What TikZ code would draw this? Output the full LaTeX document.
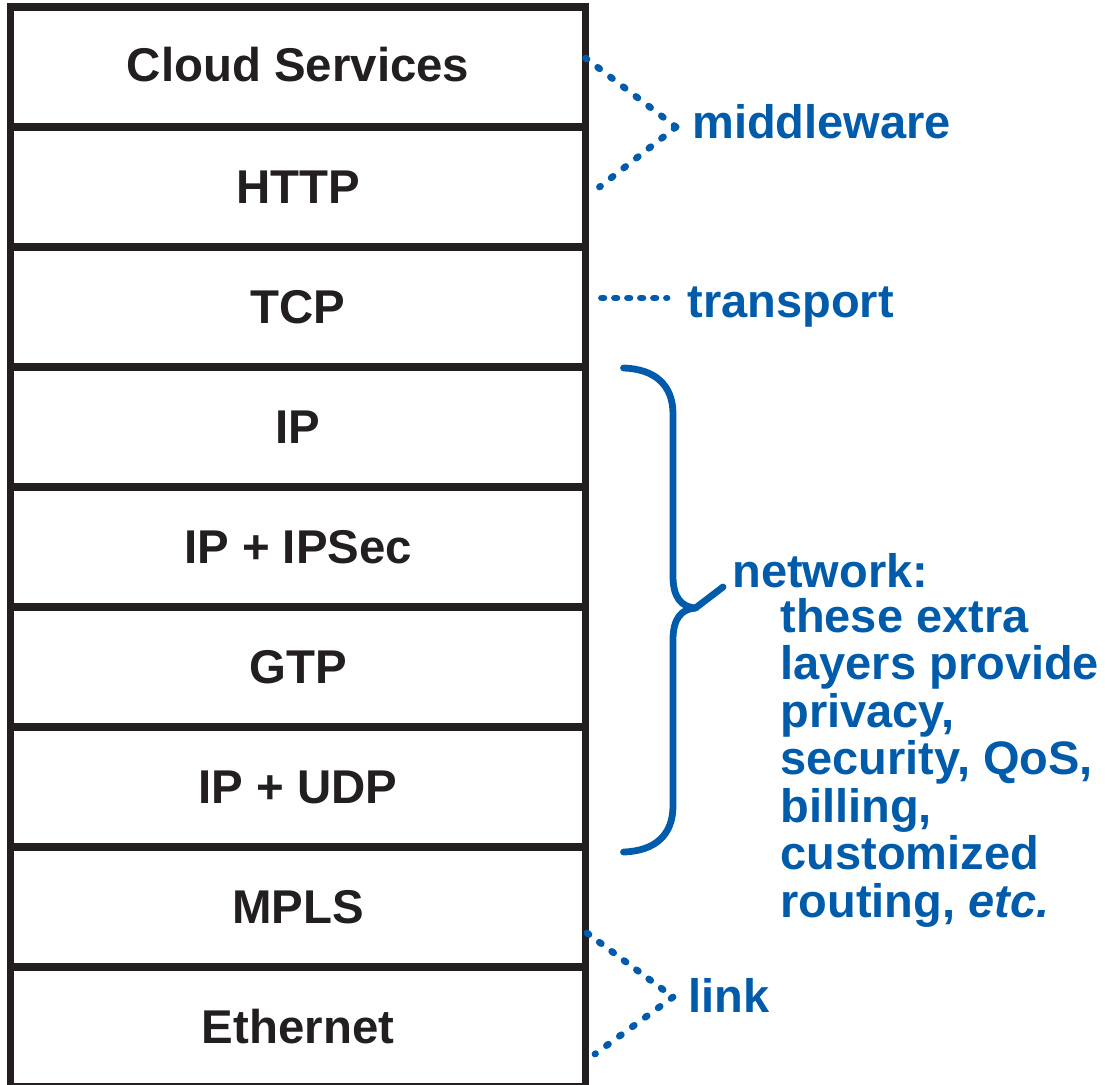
\documentclass[tikz,border=0pt]{standalone}
\usepackage{fontspec}
\setmainfont{Liberation Sans}
\definecolor{ink}{HTML}{231F20}
\definecolor{netblue}{HTML}{005BAA}
\begin{document}
\begin{tikzpicture}[x=0.5pt,y=-0.5pt,
  layer/.style={draw=ink, line width=3.75pt, minimum width=287.4pt, minimum height=60pt,
    inner sep=0pt, outer sep=0pt, text=ink, font=\fontsize{23.7pt}{28pt}\selectfont\bfseries},
  note/.style={text=netblue, inner sep=0pt, anchor=base west,
    font=\fontsize{23.5pt}{23.75pt}\selectfont\bfseries},
  dotline/.style={draw=netblue, line width=3.4pt, line cap=round, dash pattern=on 1.2pt off 6.8pt},
  bracepath/.style={draw=netblue, line width=3.4pt, line cap=round, line join=round}]
\useasboundingbox (0,0) rectangle (1105,1084);

% layer stack
\node[layer] (cloud) at (298.1,67)   {\raisebox{2.5pt}{Cloud Services}};
\node[layer] (http)  at (298.1,187)  {HTTP};
\node[layer] (tcp)   at (298.1,307)  {TCP};
\node[layer] (ip)    at (298.1,427)  {IP};
\node[layer] (ipsec) at (298.1,547)  {IP + IPSec};
\node[layer] (gtp)   at (298.1,667)  {GTP};
\node[layer] (udp)   at (298.1,787)  {IP + UDP};
\node[layer] (mpls)  at (298.1,907)  {MPLS};
\node[layer] (eth)   at (298.1,1027) {Ethernet};

% labels
\node[note] (mw)  at (692,138) {middleware};
\node[note] (tr)  at (687,317) {transport};
\node[note] (lk)  at (688,1012) {link};
\node[note] (net) at (732,587) {network:};
\node[note, align=left] (netdesc) at (780,917)
  {these extra\\layers provide\\privacy,\\security, QoS,\\billing,\\customized\\routing, \textit{etc.}};

% middleware connectors
\coordinate (mwtip) at (676,127);
\draw[dotline] (mwtip) -- ([yshift=4.5pt]cloud.east);
\draw[dotline] (mwtip) -- ([xshift=7pt]http.east);

% transport connector
\coordinate (trtip) at (667,298);
\draw[dotline, dash pattern=on 1.2pt off 5.3pt] ([xshift=8pt,yshift=4.5pt]tcp.east) -- (trtip);

% link connectors
\coordinate (lktip) at (673,997);
\draw[dotline, dash pattern=on 1.2pt off 6.5pt] ([xshift=0.75pt,yshift=-13pt]mpls.east) -- (lktip);
\draw[dotline] (lktip) -- ([xshift=4.75pt,yshift=-13.5pt]eth.east);

% network brace
\coordinate (btop) at (623.5,368);
\coordinate (bbot) at (623.5,852);
\coordinate (btip) at (695.5,608);
\coordinate (btick) at (723,587);
\draw[bracepath] (btop) .. controls (655,369) and (673,385) .. (673,414)
  -- (673,576) .. controls (673,597) and (681,607) .. (btip)
  .. controls (681,609) and (673,619) .. (673,640)
  -- (673,806) .. controls (673,835) and (655,851) .. (bbot);
\draw[bracepath] (btip) -- (btick);
\end{tikzpicture}
\end{document}
